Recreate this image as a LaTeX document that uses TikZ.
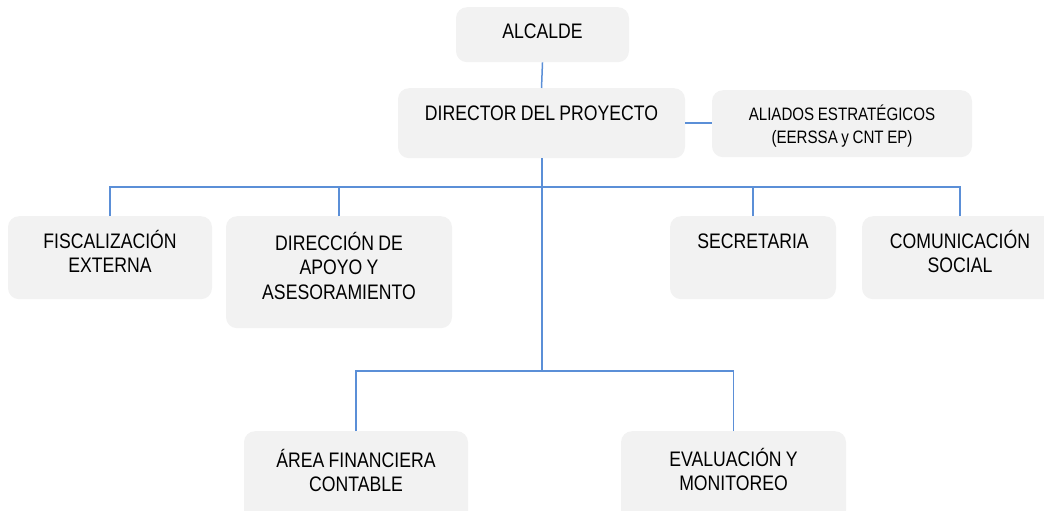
\documentclass[tikz,border=0pt]{standalone}
\usepackage{fontspec}
\setmainfont{Liberation Sans}[FakeStretch=0.84]
\definecolor{boxgray}{HTML}{F2F2F2}
\definecolor{linkblue}{HTML}{5B8FD7}
\tikzset{
  unit/.style n args={3}{fill=boxgray, rounded corners=11pt, anchor=north, align=center,
    inner sep=0pt, text width=#1, text height=#2, text depth=#3,
    font=\fontsize{21}{24.5}\selectfont,
    execute at begin node={\spaceskip=0.2em\relax}},
  link/.style={draw=linkblue, line width=1.5pt}
}
\begin{document}
\begin{tikzpicture}[x=1pt,y=-1pt]
\useasboundingbox (0,0) rectangle (1044,511);
% top of the chart
\node[unit={173pt}{31pt}{24pt}] (alcalde) at (542.5,7) {ALCALDE};
\node[unit={287pt}{32pt}{38pt}] (director) at (541.5,88) {DIRECTOR DEL PROYECTO};
\node[unit={260pt}{30pt}{37pt}, font=\fontsize{18}{23}\selectfont] (aliados) at (842,90)
   {ALIADOS ESTRATÉGICOS\\(EERSSA y CNT EP)};
% first level
\node[unit={204pt}{32pt}{51pt}] (fiscal) at (110,216) {FISCALIZACIÓN\\EXTERNA};
\node[unit={226pt}{34pt}{78pt}] (direccion) at (339,216) {DIRECCIÓN DE\\APOYO Y\\ASESORAMIENTO};
\node[unit={166pt}{32pt}{51pt}] (secretaria) at (753,216) {SECRETARIA};
\node[unit={196pt}{32pt}{51pt}] (comunicacion) at (960,216) {COMUNICACIÓN\\SOCIAL};
% second level
\node[unit={224pt}{36pt}{55pt}] (area) at (356,431) {ÁREA FINANCIERA\\CONTABLE};
\node[unit={225pt}{35pt}{55pt}] (evaluacion) at (733.5,431) {EVALUACIÓN Y\\MONITOREO};

\coordinate (hub) at (542,187);
\coordinate (hublow) at (542,371);
\draw[link] (alcalde.south) -- (director.north);
\draw[link] (director.east) -- (aliados.west |- director.east);
\draw[link] (director.south -| hub) -- (hub) -- (hublow);
\foreach \n in {fiscal, direccion, secretaria, comunicacion}
   \draw[link] (\n.north) -- (\n.north |- hub) -- (hub);
\foreach \n in {area, evaluacion}
   \draw[link] (\n.north) -- (\n.north |- hublow) -- (hublow);
\end{tikzpicture}
\end{document}
